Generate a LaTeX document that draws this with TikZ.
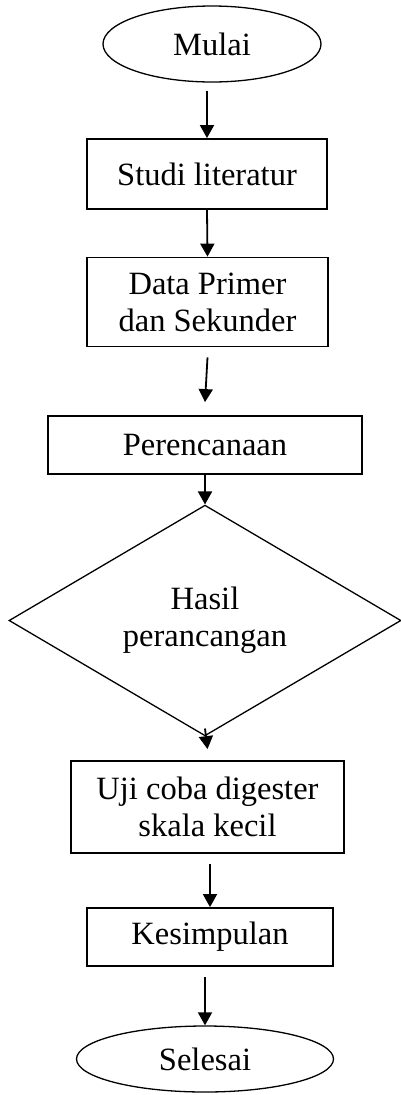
\documentclass[tikz,border=0pt]{standalone}
\usepackage{fontspec}
\setmainfont{Liberation Serif}
\usetikzlibrary{shapes.geometric,arrows.meta}
\tikzset{
  txt/.style={font=\fontsize{32.5}{37}\selectfont, align=center, inner sep=0pt, text=black},
  boxnode/.style={txt, draw, line width=1.8pt, rectangle},
  ovalnode/.style={txt, draw, line width=1.3pt, ellipse},
  decnode/.style={txt, draw, line width=1.3pt, diamond},
  arr/.style={line width=1.8pt, -{Triangle[length=13pt,width=14pt]}}
}
\begin{document}
\begin{tikzpicture}[x=1pt,y=-1pt]
\useasboundingbox (0,0) rectangle (401,1095);
\node[ovalnode, minimum width=218pt, minimum height=76pt] (mulai) at (212,44) {Mulai};
\node[boxnode, minimum width=240pt, minimum height=70pt] (studi) at (207,174) {Studi literatur};
\node[boxnode, minimum width=241pt, minimum height=89pt] (data) at (207.5,302) {Data Primer\\dan Sekunder};
\node[boxnode, minimum width=314pt, minimum height=58pt] (perenc) at (205,445) {Perencanaan};
\node[decnode, minimum width=392pt, minimum height=183pt] (hasil) at (205,620.5) {Hasil\\perancangan};
\node[boxnode, minimum width=273pt, minimum height=92pt] (uji) at (207.5,807) {Uji coba digester\\skala kecil};
\node[boxnode, minimum width=246pt, minimum height=58pt] (kes) at (210,937) {Kesimpulan};
\node[ovalnode, minimum width=257pt, minimum height=66pt] (selesai) at (205,1059) {Selesai};
\draw[arr] ([yshift=-8pt]mulai.south -| studi.north) -- (studi.north);
\draw[arr] (studi.south) -- (data.north);
\draw[arr] ([yshift=-10pt]data.south) -- ([yshift=13pt]perenc.north);
\draw[arr] (perenc.south) -- (hasil.north);
\draw[arr] ([yshift=8pt]hasil.south) -- ([yshift=11pt]uji.north);
\draw[arr] ([yshift=-10pt]uji.south -| kes.north) -- (kes.north);
\draw[arr] ([yshift=-10pt]kes.south -| selesai.north) -- (selesai.north);
\end{tikzpicture}
\end{document}
